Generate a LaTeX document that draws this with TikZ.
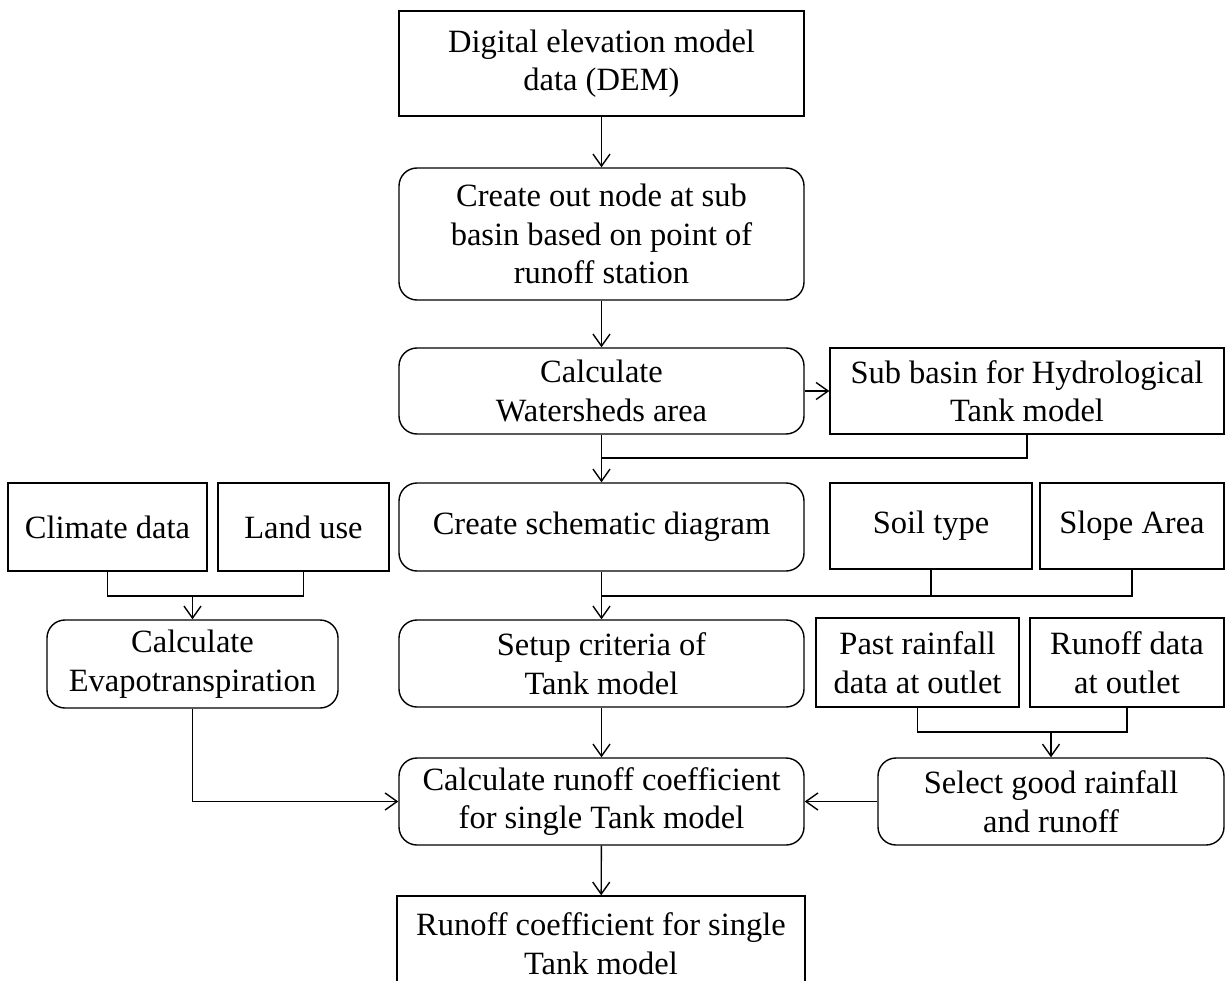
\documentclass[tikz,border=0pt]{standalone}
\usepackage{fontspec}
\setmainfont{Liberation Serif}
\usetikzlibrary{arrows.meta, positioning, calc}

\begin{document}
\begin{tikzpicture}[
    x=1pt, y=-1pt,
    every node/.style={font=\fontsize{32.5}{38.5}\selectfont, align=center, inner sep=0pt},
    sq_node/.style={rectangle, draw, line width=1.4pt},
    rd_node/.style={rectangle, rounded corners=18pt, draw, line width=1.4pt},
    arr/.style={-{Straight Barb[length=12pt, width=17pt, line width=1.4pt]}, line width=1.4pt},
    ln/.style={line width=1.4pt}
    ]
    \useasboundingbox (0,0) rectangle (1225,981);

    % Nodes
    \node[sq_node, minimum width=405, minimum height=105] (dem) at (601.5,63.5) {Digital elevation model\\data (DEM)};
    \node[rd_node, minimum width=405, minimum height=132] (outnode) at (601.5,234) {Create out node at sub\\basin based on point of\\runoff station};
    \node[rd_node, minimum width=405, minimum height=86] (watershed) at (601.5,391) {Calculate\\Watersheds area};
    \node[sq_node, minimum width=394, minimum height=86] (subbasin) at (1027,391) {Sub basin for Hydrological\\Tank model};
    \node[rd_node, minimum width=405, minimum height=88] (schematic) at (601.5,527) {Create schematic diagram};
    \node[sq_node, minimum width=199, minimum height=88] (climate) at (107.5,527) {Climate data};
    \node[sq_node, minimum width=171, minimum height=88] (landuse) at (303.5,527) {Land use};
    \node[sq_node, minimum width=202, minimum height=86] (soil) at (931,526) {Soil type};
    \node[sq_node, minimum width=184, minimum height=86] (slope) at (1132,526) {Slope Area};
    \node[rd_node, minimum width=291, minimum height=88] (evapo) at (192.5,664) {Calculate\\Evapotranspiration};
    \node[rd_node, minimum width=405, minimum height=87] (setup) at (601.5,663.5) {Setup criteria of\\Tank model};
    \node[sq_node, minimum width=203, minimum height=89] (past) at (917.5,662.5) {Past rainfall\\data at outlet};
    \node[sq_node, minimum width=194, minimum height=89] (rodata) at (1127,662.5) {Runoff data\\at outlet};
    \node[rd_node, minimum width=346, minimum height=87] (select) at (1051,801.5) {Select good rainfall\\and runoff};
    \node[rd_node, minimum width=405, minimum height=87] (calc) at (601.5,801.5) {Calculate runoff coefficient\\for single Tank model};
    \node[sq_node, minimum width=408, minimum height=95] (result) at (601,943.5) {Runoff coefficient for single\\Tank model};

    % Junctions
    \coordinate (j1) at (601.5,458);
    \coordinate (j2) at (192.5,596);
    \coordinate (j3) at (601.5,596);
    \coordinate (j4) at (1051,732);

    % Arrows
    \draw[arr] (dem) -- (outnode);
    \draw[arr] (outnode) -- (watershed);
    \draw[arr] (watershed) -- (subbasin);
    \draw[arr] (watershed) -- (schematic);
    \draw[ln] (subbasin.south) |- (j1);
    \draw[ln] (climate.south) |- (j2) -| (landuse.south);
    \draw[arr] (j2) -- (evapo);
    \draw[arr] (schematic) -- (setup);
    \draw[ln] (slope.south) |- (j3);
    \draw[ln] (soil.south) -- (soil.south |- j3);
    \draw[ln] (past.south) |- (j4) -| (rodata.south);
    \draw[arr] (j4) -- (select);
    \draw[arr] (setup) -- (calc);
    \draw[arr] (evapo.south) |- (calc.west);
    \draw[arr] (select) -- (calc);
    \draw[arr] (calc) -- (result);
\end{tikzpicture}
\end{document}
